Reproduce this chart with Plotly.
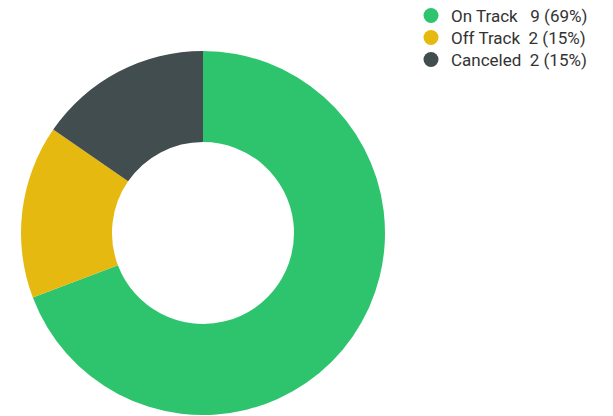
import plotly.graph_objects as go

categories = ["On Track", "Off Track", "Canceled"]
values = [9, 2, 2]
colors = ["#2EC46E", "#E6B910", "#414D4F"]

total = sum(values)
W, H = 613, 416

fig = go.Figure()
fig.add_trace(go.Pie(
    labels=categories, values=values, hole=0.5, sort=False,
    direction="clockwise", rotation=0,
    marker=dict(colors=colors, line=dict(width=0)),
    textinfo="none", hoverinfo="label+value+percent", showlegend=False,
    domain=dict(x=[21 / W, 385 / W], y=[1 - 415 / H, 1 - 51 / H]),
))
legend_names = ["legend", "legend2", "legend3"]
for i, (c, v, col) in enumerate(zip(categories, values, colors)):
    pct = round(100 * v / total)
    sep = "&nbsp;" * 3 if c == "On Track" else "&nbsp;" * 2
    fig.add_trace(go.Scatter(
        x=[None], y=[None], mode="markers",
        marker=dict(symbol="circle", size=15, color=col),
        name=f"{c}{sep}{v} ({pct}%)",
        showlegend=True, legend=legend_names[i],
    ))

leg_common = dict(xanchor="left", yanchor="top", itemsizing="trace",
                  bgcolor="rgba(0,0,0,0)", font=dict(size=17, color="#333333"))
tops = [-2, 20, 42]
layout_legends = {}
for name, t in zip(legend_names, tops):
    layout_legends[name] = dict(x=411 / W, y=1 - t / H, **leg_common)

fig.update_layout(
    width=W, height=H, margin=dict(l=0, r=0, t=0, b=0, autoexpand=False),
    paper_bgcolor="white", plot_bgcolor="white",
    xaxis=dict(visible=False), yaxis=dict(visible=False),
    font=dict(family="Roboto", size=17, color="#333333"),
    **layout_legends,
)
fig.write_html("out.html")
